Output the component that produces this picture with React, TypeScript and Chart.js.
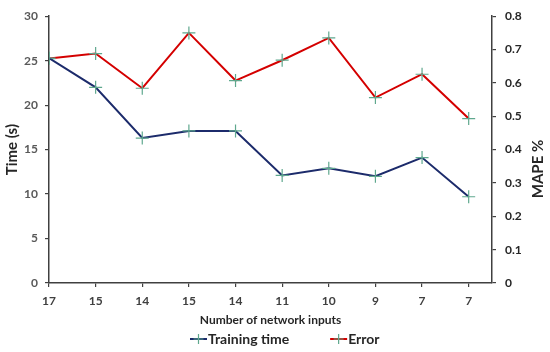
import React, { useEffect, useRef } from 'react';
import { Chart, registerables } from 'chart.js';

Chart.register(...registerables);

const categories: string[] = ['17', '15', '14', '15', '14', '11', '10', '9', '7', '7'];
const trainingTime: number[] = [25.3, 22.0, 16.3, 17.1, 17.1, 12.1, 12.9, 12.0, 14.1, 9.7];
const errorMape: number[] = [0.673, 0.688, 0.584, 0.750, 0.607, 0.668, 0.735, 0.556, 0.626, 0.493];
const seriesNames: string[] = ['Training time', 'Error'];
const xTitle = 'Number of network inputs';
const yTitle = 'Time (s)';
const y1Title = 'MAPE %';

const FONT = 'Lato, "Open Sans", sans-serif';
const MARKER = '#5fa88e';

const extrasPlugin = {
  id: 'extras',
  afterDraw(chart: any) {
    const ctx = chart.ctx as CanvasRenderingContext2D;
    ctx.save();
    // right axis title, reading bottom-to-top
    ctx.font = `bold 15px ${FONT}`;
    ctx.fillStyle = '#262626';
    ctx.textAlign = 'center';
    ctx.textBaseline = 'middle';
    ctx.translate(538, 169);
    ctx.rotate(-Math.PI / 2);
    ctx.fillText(y1Title, 0, 0);
    ctx.restore();

    // legend
    ctx.save();
    ctx.font = `bold 14px ${FONT}`;
    ctx.textBaseline = 'middle';
    ctx.textAlign = 'left';
    const y = 339;
    let x = 190;
    chart.data.datasets.forEach((ds: any) => {
      ctx.strokeStyle = ds.borderColor;
      ctx.lineWidth = 2;
      ctx.beginPath();
      ctx.moveTo(x, y);
      ctx.lineTo(x + 17, y);
      ctx.stroke();
      ctx.strokeStyle = MARKER;
      ctx.lineWidth = 1.2;
      ctx.beginPath();
      ctx.moveTo(x + 8.5, y - 5);
      ctx.lineTo(x + 8.5, y + 5);
      ctx.moveTo(x + 3.5, y);
      ctx.lineTo(x + 13.5, y);
      ctx.stroke();
      ctx.fillStyle = '#262626';
      ctx.fillText(ds.label, x + 18, y);
      const w = ctx.measureText(ds.label).width;
      x += 18 + w + 41;
    });
    ctx.restore();
  },
};

export default function App() {
  const ref = useRef<HTMLCanvasElement | null>(null);

  useEffect(() => {
    if (!ref.current) return;
    const tickFont = { family: FONT, size: 12, weight: 'bold' as const };
    const chart = new Chart(ref.current, {
      type: 'line',
      data: {
        datasets: [
          {
            label: seriesNames[0],
            data: trainingTime.map((v, i) => ({ x: i, y: v })),
            borderColor: '#1c2b6b',
            borderWidth: 2,
            pointStyle: 'cross',
            pointRadius: 6.5,
            pointBorderColor: MARKER,
            pointBackgroundColor: MARKER,
            pointBorderWidth: 1.2,
            yAxisID: 'y',
            tension: 0,
          },
          {
            label: seriesNames[1],
            data: errorMape.map((v, i) => ({ x: i, y: v })),
            borderColor: '#d40000',
            borderWidth: 2,
            pointStyle: 'cross',
            pointRadius: 6.5,
            pointBorderColor: MARKER,
            pointBackgroundColor: MARKER,
            pointBorderWidth: 1.2,
            yAxisID: 'y1',
            tension: 0,
          },
        ],
      },
      options: {
        animation: false,
        responsive: false,
        maintainAspectRatio: false,
        layout: { padding: { top: 13, bottom: 0, left: 0, right: 0 } },
        plugins: {
          legend: { display: false },
          tooltip: { enabled: false },
        },
        scales: {
          x: {
            type: 'linear',
            min: 0,
            max: 9.5,
            afterFit: (s: any) => { s.height = 69; },
            ticks: {
              stepSize: 1,
              includeBounds: false,
              autoSkip: false,
              maxRotation: 0,
              padding: 7,
              color: '#404040',
              font: tickFont,
              callback: (v: any) => categories[v as number] ?? '',
            },
            grid: { display: true, drawOnChartArea: false, drawTicks: true, tickLength: 4, color: '#404040', lineWidth: 1.2 },
            border: { display: true, color: '#404040', width: 1.5 },
            title: {
              display: true,
              text: xTitle,
              color: '#262626',
              font: { family: FONT, size: 12, weight: 'bold' },
              padding: { top: 0, bottom: 25 },
            },
          },
          y: {
            type: 'linear',
            position: 'left',
            min: 0,
            max: 30,
            afterFit: (s: any) => { s.width = 49; },
            ticks: { stepSize: 5, padding: 7, color: '#595959', font: tickFont },
            grid: { display: true, drawOnChartArea: false, drawTicks: true, tickLength: 4, color: '#404040', lineWidth: 1.2 },
            border: { display: true, color: '#404040', width: 1.5 },
            title: {
              display: true,
              text: yTitle,
              color: '#262626',
              font: { family: FONT, size: 15, weight: 'bold' },
              padding: { top: 3.5, bottom: 0 },
            },
          },
          y1: {
            type: 'linear',
            position: 'right',
            min: 0,
            max: 0.8,
            afterFit: (s: any) => { s.width = 58; },
            ticks: { stepSize: 0.1, padding: 9, color: '#262626', font: tickFont },
            grid: { display: true, drawOnChartArea: false, drawTicks: true, tickLength: 4, color: '#404040', lineWidth: 1.2 },
            border: { display: true, color: '#404040', width: 1.5 },
          },
        },
      },
      plugins: [extrasPlugin],
    });
    return () => chart.destroy();
  }, []);

  return (
    <div style={{ position: 'fixed', left: 0, top: 0, width: 550, height: 352, background: '#ffffff' }}>
      <canvas ref={ref} width={550} height={352} style={{ display: 'block', width: 550, height: 352 }} />
    </div>
  );
}
